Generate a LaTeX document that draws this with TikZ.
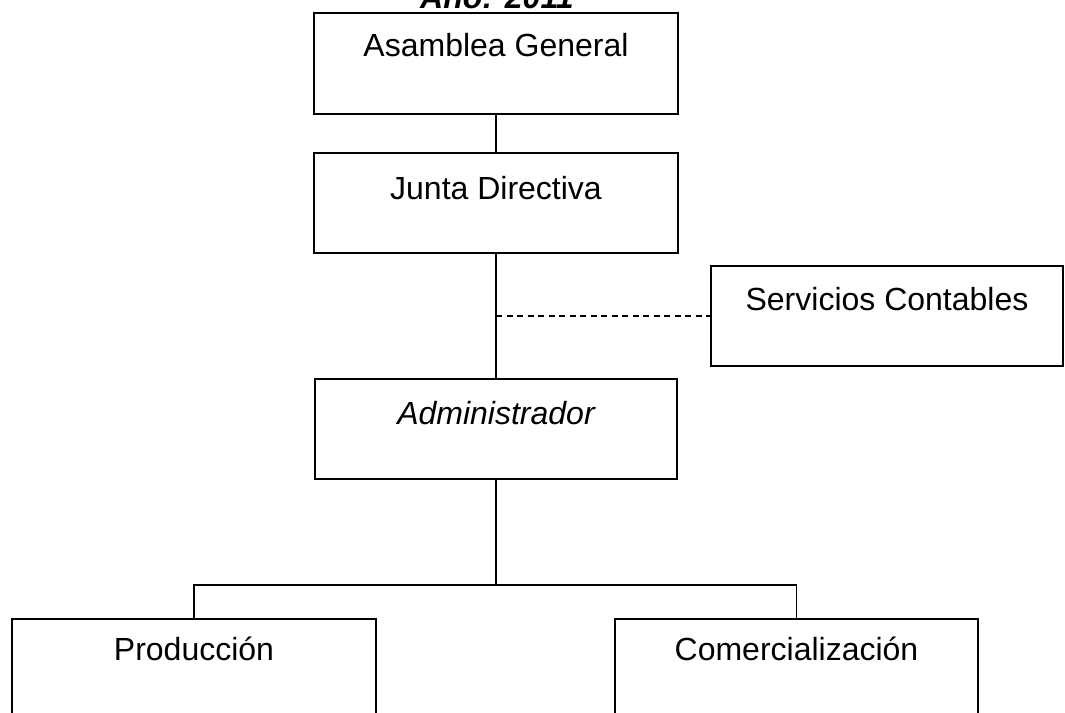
\documentclass[tikz,border=0pt]{standalone}
\usepackage{fontspec}
\setmainfont{Liberation Sans}
\begin{document}
\begin{tikzpicture}[x=1pt,y=-1pt,
  box/.style={draw=black, line width=2.3pt, rectangle, inner sep=0pt, outer sep=0pt},
  lbl/.style={anchor=base, inner sep=0pt, font=\fontsize{32}{38}\selectfont},
  conn/.style={draw=black, line width=1.8pt},
  dashconn/.style={draw=black, line width=1.8pt, dash pattern=on 6pt off 4.5pt}]
\useasboundingbox (0,0) rectangle (1065,712);
\clip (0,0) rectangle (1065,712);
\fill[white] (0,0) rectangle (1065,712);
% title (cut off at the top, as in the reference)
\node[lbl, font=\fontsize{32}{38}\selectfont\bfseries\itshape] (title) at (497,9) {Año: 2011};
% boxes
\node[box, minimum width=364pt, minimum height=101pt] (asam) at (496,63.5) {};
\node[box, minimum width=364pt, minimum height=100pt] (junta) at (496,203) {};
\node[box, minimum width=352pt, minimum height=100pt] (serv) at (887,316) {};
\node[box, minimum width=362pt, minimum height=100pt] (admin) at (496,429) {};
\node[box, minimum width=364pt, minimum height=100pt] (prod) at (194,669) {};
\node[box, minimum width=363pt, minimum height=100pt] (comer) at (796.5,669) {};
% texts
\node[lbl] (asamT) at (496,56) {Asamblea General};
\node[lbl] (juntaT) at (496,199) {Junta Directiva};
\node[lbl] (servT) at (887,310) {Servicios Contables};
\node[lbl, font=\fontsize{32}{38}\selectfont\itshape] (adminT) at (496,424) {Administrador};
\node[lbl] (prodT) at (194,660) {Producción};
\node[lbl] (comerT) at (796.5,660) {Comercialización};
% connectors
\coordinate (dj) at (496,316);
\coordinate (bL) at (194,585);
\draw[conn] (asam.south) -- (junta.north);
\draw[conn] (junta.south) -- (admin.north);
\draw[dashconn] (dj) -- (serv.west);
\draw[conn] (admin.south) -- (admin.south |- bL);
\draw[conn] (prod.north) -- (prod.north |- bL) -- (comer.north |- bL) -- (comer.north);
\end{tikzpicture}
\end{document}
